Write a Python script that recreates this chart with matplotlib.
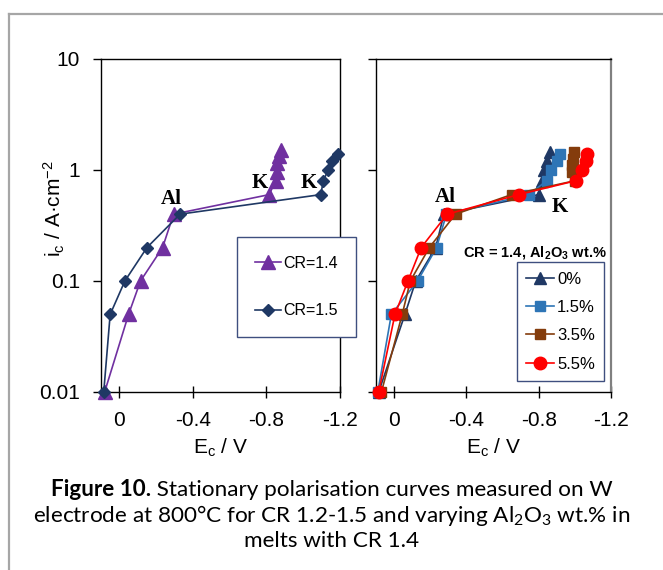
import matplotlib
matplotlib.use("Agg")
import matplotlib.pyplot as plt
from matplotlib.lines import Line2D
from matplotlib.ticker import NullLocator

# Data: cathode potential E_c (V) and current density i_c (A/cm2)
# Left panel: CR 1.4 and 1.5
cr14_E = [0.08, -0.05, -0.115, -0.235, -0.295, -0.815, -0.85, -0.855, -0.86, -0.87, -0.88]
cr14_i = [0.01, 0.05, 0.1, 0.2, 0.4, 0.6, 0.8, 0.95, 1.15, 1.35, 1.5]
cr15_E = [0.085, 0.05, -0.03, -0.15, -0.33, -1.095, -1.11, -1.135, -1.155, -1.19]
cr15_i = [0.01, 0.05, 0.1, 0.2, 0.4, 0.6, 0.8, 1.0, 1.2, 1.4]

# Right panel: CR 1.4 with Al2O3 additions
al0_E = [0.085, -0.06, -0.12, -0.23, -0.276, -0.80, -0.82, -0.83, -0.845, -0.86]
al0_i = [0.01, 0.05, 0.1, 0.2, 0.4, 0.6, 0.8, 1.0, 1.2, 1.45]
al15_E = [0.09, 0.015, -0.13, -0.235, -0.29, -0.745, -0.845, -0.87, -0.9, -0.92]
al15_i = [0.01, 0.05, 0.1, 0.2, 0.4, 0.6, 0.8, 1.0, 1.2, 1.4]
al35_E = [0.07, -0.045, -0.09, -0.195, -0.34, -0.65, -1.0, -0.985, -0.985, -0.99, -0.995]
al35_i = [0.01, 0.05, 0.1, 0.2, 0.4, 0.6, 0.8, 0.95, 1.1, 1.25, 1.45]
al55_E = [0.085, -0.005, -0.077, -0.15, -0.294, -0.69, -1.005, -1.04, -1.06, -1.07]
al55_i = [0.01, 0.05, 0.1, 0.2, 0.4, 0.6, 0.8, 1.0, 1.2, 1.4]

x_ticks = [0, -0.4, -0.8, -1.2]
x_tick_labels = ["0", "-0.4", "-0.8", "-1.2"]
y_ticks = [0.01, 0.1, 1, 10]
y_tick_labels = ["0.01", "0.1", "1", "10"]

plt.rcParams["font.family"] = ["Liberation Sans", "DejaVu Sans"]

fig = plt.figure(figsize=(6.63, 5.70), dpi=100)
ax1 = fig.add_axes([0.1523, 0.3123, 0.3605, 0.5842])
ax2 = fig.add_axes([0.5671, 0.3123, 0.3544, 0.5842])

# left panel
ax1.plot(cr14_E, cr14_i, color="#7030A0", marker="^", markersize=9.5, lw=1.2,
         label="CR=1.4", clip_on=False, zorder=3)
ax1.plot(cr15_E, cr15_i, color="#1F3864", marker="D", markersize=6.5, lw=1.2,
         label="CR=1.5", clip_on=False, zorder=4)

# right panel
ax2.plot(al0_E, al0_i, color="#1F3864", marker="^", markersize=8.5, lw=1.2,
         label="0%", clip_on=False, zorder=3)
ax2.plot(al15_E, al15_i, color="#2E75B6", marker="s", markersize=6.5, lw=1.2,
         label="1.5%", clip_on=False, zorder=3)
ax2.plot(al35_E, al35_i, color="#843C0C", marker="s", markersize=7, lw=1.2,
         label="3.5%", clip_on=False, zorder=3)
ax2.plot(al55_E, al55_i, color="#FF0000", marker="o", markersize=9, lw=1.2,
         label="5.5%", clip_on=False, zorder=4)

for ax in (ax1, ax2):
    ax.set_yscale("log")
    ax.set_ylim(0.01, 10)
    ax.set_xlim(0.1, -1.2)
    ax.yaxis.set_minor_locator(NullLocator())
    ax.set_yticks(y_ticks)
    ax.set_xticks(x_ticks)
    ax.set_xticklabels(x_tick_labels)
    ax.tick_params(axis="x", direction="inout", length=9, width=1, labelsize=15, pad=9)
    ax.tick_params(axis="y", direction="out", length=6, width=1, labelsize=15, pad=9)
    ax.set_xlabel(r"E$\mathregular{_c}$ / V", fontsize=15, labelpad=5)
    for s in ax.spines.values():
        s.set_color("black")
        s.set_linewidth(1)

ax1.set_yticklabels(y_tick_labels)
ax2.set_yticklabels([])
ax1.set_ylabel(r"i$\mathregular{_c}$ / A·cm$\mathregular{^{-2}}$", fontsize=15)
ax1.yaxis.set_label_coords(-0.143, 0.55)
ax2.spines["right"].set_color("#808080")
ax2.spines["right"].set_linewidth(1.6)

# peak labels
lab = dict(family="Liberation Serif", fontweight="bold", fontsize=15, ha="center", va="center")
ax1.text(-0.281, 0.55, "Al", **lab)
ax1.text(-0.762, 0.76, "K", **lab)
ax1.text(-1.032, 0.77, "K", **lab)
ax2.text(-0.286, 0.57, "Al", **lab)
ax2.text(-0.919, 0.46, "K", **lab)

ax2.text(0.677, 0.419, r"CR = 1.4, Al$\mathregular{_2}$O$\mathregular{_3}$ wt.%",
         transform=ax2.transAxes, ha="center", va="center", fontsize=10.5, fontweight="bold")

leg_kw = dict(fancybox=False, edgecolor="#3F4F7F", framealpha=1,
              handletextpad=0.15, borderaxespad=0)
leg1 = ax1.legend(loc="upper left", bbox_to_anchor=(0.569, 0.465), fontsize=11.5,
                  handlelength=1.6, labelspacing=2.05, borderpad=1.15, **leg_kw)
leg2 = ax2.legend(loc="upper left", bbox_to_anchor=(0.6, 0.389), fontsize=12,
                  handlelength=1.7, labelspacing=0.8, borderpad=0.55, **leg_kw)
for leg in (leg1, leg2):
    leg.get_frame().set_linewidth(1)

# figure caption: bold "Figure 10." followed by regular text, centred together
cap = dict(family="Lato", fontsize=16.2, va="center")
y1 = 1 - 490 / 570
t_bold = fig.text(0, y1, "Figure 10.", fontweight="bold", **cap)
t_rest = fig.text(0, y1, " Stationary polarisation curves measured on W", **cap)
r = fig.canvas.get_renderer()
w_bold = t_bold.get_window_extent(r).width
w_rest = t_rest.get_window_extent(r).width
x0 = (fig.bbox.width - w_bold - w_rest) / 2
t_bold.set_x(x0 / fig.bbox.width)
t_rest.set_x((x0 + w_bold) / fig.bbox.width)
fig.text(0.5, 1 - 515 / 570, r"electrode at 800°C for CR 1.2-1.5 and varying Al$\mathregular{_2}$O$\mathregular{_3}$ wt.% in",
         ha="center", **cap)
fig.text(0.5, 1 - 541 / 570, "melts with CR 1.4", ha="center", **cap)

# grey frame around the figure
fig.add_artist(Line2D([9 / 663, 9 / 663], [0, 1 - 14 / 570], color="#A6A6A6", lw=1.6,
                      transform=fig.transFigure))
fig.add_artist(Line2D([9 / 663, 1], [1 - 14 / 570, 1 - 14 / 570], color="#A6A6A6", lw=1.6,
                      transform=fig.transFigure))

fig.savefig("out.png", dpi=100)
